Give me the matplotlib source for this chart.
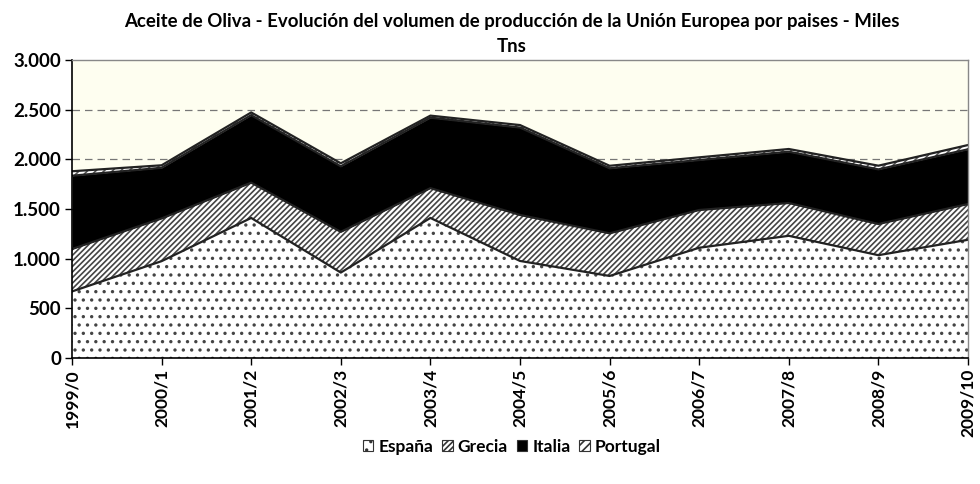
import matplotlib
matplotlib.use("Agg")
import matplotlib.pyplot as plt
import matplotlib.patches as mpatches
import numpy as np

plt.rcParams['font.family'] = ['Lato', 'DejaVu Sans']
plt.rcParams['hatch.linewidth'] = 1.2

campanas = ["1999/0", "2000/1", "2001/2", "2002/3", "2003/4", "2004/5",
            "2005/6", "2006/7", "2007/8", "2008/9", "2009/10"]
espana = [670, 975, 1410, 860, 1410, 977, 826, 1110, 1230, 1035, 1190]
grecia = [427, 430, 355, 410, 300, 463, 429, 380, 330, 314, 360]
italia = [738, 510, 680, 660, 710, 880, 655, 503, 517, 550, 551]
portugal = [45, 25, 27, 30, 20, 25, 25, 27, 27, 37, 43]
series_names = ["España", "Grecia", "Italia", "Portugal"]
yticks = [0, 500, 1000, 1500, 2000, 2500, 3000]
ytick_labels = ["0", "500", "1.000", "1.500", "2.000", "2.500", "3.000"]

fig = plt.figure(figsize=(9.8, 4.84), dpi=100)
ax = fig.add_axes([72/980, 1-358/484, (968-72)/980, (358-60)/484])
ax.set_facecolor('#fefef0')

x = np.arange(len(campanas))
layers = [espana, grecia, italia, portugal]
hatches = ['..', '//////', None, '////']
faces = ['white', 'white', 'black', 'white']
hatch_cols = ['#444444', '#444444', 'black', '#555555']
bottom = np.zeros(len(x))
for vals, h, fc, hc in zip(layers, hatches, faces, hatch_cols):
    top = bottom + np.array(vals)
    ax.fill_between(x, bottom, top, facecolor=fc, edgecolor=hc, hatch=h,
                    linewidth=0, zorder=2)
    ax.plot(x, top, color='#222222', lw=1.6, zorder=3)
    bottom = top

for yv in [500, 1000, 1500, 2000, 2500]:
    ax.axhline(yv, color='#777777', lw=0.9, ls=(0, (6, 4)), zorder=1)

ax.set_xlim(0, 10)
ax.set_ylim(0, 3000)
ax.set_yticks(yticks)
ax.set_yticklabels(ytick_labels, fontsize=13.5, fontweight='bold')
ax.set_xticks(x)
ax.set_xticklabels(campanas, rotation=90, fontsize=12.5, fontweight='bold')
ax.tick_params(axis='both', direction='out', length=5, width=1, color='black', pad=3)
for s in ['left', 'bottom']:
    ax.spines[s].set_color('black')
    ax.spines[s].set_linewidth(1.2)
for s in ['top', 'right']:
    ax.spines[s].set_color('#888888')
    ax.spines[s].set_linewidth(1.0)
for s in ax.spines.values():
    s.set_zorder(5)

cx = 512/980
fig.text(cx, 1-22/484, "Aceite de Oliva - Evolución del volumen de producción de la Unión Europea por paises - Miles",
         ha='center', va='center', fontsize=13.4, fontweight='bold')
fig.text(cx, 1-47/484, "Tns", ha='center', va='center', fontsize=13.4, fontweight='bold')

handles = []
for name, h, fc, hc in zip(series_names, hatches, faces, hatch_cols):
    handles.append(mpatches.Patch(facecolor=fc, edgecolor='#333333', hatch=h, linewidth=0.8, label=name))
leg = fig.legend(handles=handles, loc='center', bbox_to_anchor=(cx, 1-447/484), ncol=4,
                 frameon=False, prop={'weight': 'bold', 'size': 12.5},
                 handlelength=0.6, handleheight=0.6, handletextpad=0.3, columnspacing=0.5)

fig.savefig("out.png", dpi=100, facecolor='white')
